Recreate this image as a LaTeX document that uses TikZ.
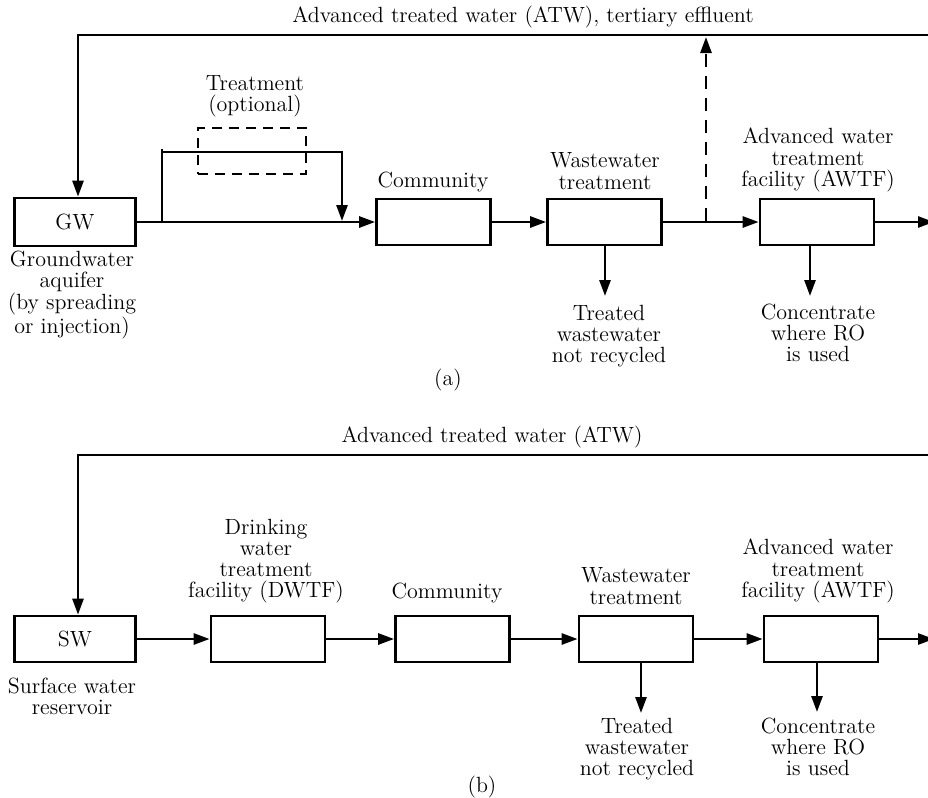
\documentclass[tikz,border=0pt]{standalone}
\usetikzlibrary{arrows.meta}
\begin{document}
\begin{tikzpicture}[x=0.5pt,y=-0.5pt,
  every node/.style={font=\fontsize{11}{10.6}\selectfont},
  ln/.style={line width=1.35pt},
  arr/.style={ln,-{Triangle[length=8pt,width=5.5pt]}},
  box/.style={draw,line width=1.35pt,minimum width=57pt,minimum height=23pt,inner sep=0pt},
  lbl/.style={align=center,inner sep=0pt}]
\useasboundingbox (0,0) rectangle (928,798);
% ---------- (a) ----------
\node[lbl] (ta) at (523,17) {Advanced treated water (ATW), tertiary effluent};
\node[box,minimum width=60.5pt,minimum height=24pt] (gw) at (75,222) {GW};
\node[lbl] (gwl) at (72,295) {Groundwater\\aquifer\\(by spreading\\or injection)};
\node[box,dashed,dash pattern=on 5pt off 3.5pt,minimum width=54pt,minimum height=23pt] (opt) at (252,151) {};
\node[lbl] (optl) at (255,96) {Treatment\\(optional)};
\node[box] (coma) at (433.5,222) {};
\node[lbl] (comal) at (433,182) {Community};
\node[box] (wwa) at (604.5,222) {};
\node[lbl] (wwal) at (605,171) {Wastewater\\treatment};
\node[box] (awa) at (817,222) {};
\node[lbl] (awal) at (818,160) {Advanced water\\treatment\\facility (AWTF)};
\coordinate (wwad) at (605,296);
\node[lbl] (wwan) at (609,336) {Treated\\wastewater\\not recycled};
\coordinate (awad) at (810,296);
\node[lbl] (awan) at (818,333) {Concentrate\\where RO\\is used};
\coordinate (topa) at (78,35);
\coordinate (topar) at (935,35);
\coordinate (b1) at (162,222);
\coordinate (b0) at (162,149);
\coordinate (b2) at (162,152);
\coordinate (b3) at (342,152);
\coordinate (b4) at (342,221);
\coordinate (da) at (706,221);
\coordinate (dat) at (706,37);
\coordinate (ra) at (934,222);
\node[lbl] (capa) at (448,380) {(a)};
\draw[arr] (topar) -- (topa) -- (gw.north -| topa);
\draw[arr] (gw.east) -- (coma.west);
\draw[ln] (b1) -- (b0);
\draw[arr] (b2) -- (b3) -- (b4);
\draw[arr] (coma.east) -- (wwa.west);
\draw[arr] (wwa.east) -- (awa.west);
\draw[arr,dash pattern=on 6.5pt off 4.5pt] (da) -- (dat);
\draw[arr] (wwa.south -| wwad) -- (wwad);
\draw[arr] (awa.south -| awad) -- (awad);
\draw[arr] (awa.east) -- (ra);
% ---------- (b) ----------
\node[lbl] (tb) at (492,437) {Advanced treated water (ATW)};
\node[box,minimum width=60.5pt] (sw) at (75,639) {SW};
\node[lbl] (swl) at (72,696) {Surface water\\reservoir};
\node[box] (dw) at (268,639) {};
\node[lbl] (dwl) at (266,561) {Drinking\\water\\treatment\\facility (DWTF)};
\node[box] (comb) at (452.5,639) {};
\node[lbl] (combl) at (447,593) {Community};
\node[box] (wwb) at (636,639) {};
\node[lbl] (wwbl) at (636,586) {Wastewater\\treatment};
\node[box] (awb) at (821,639) {};
\node[lbl] (awbl) at (818,571) {Advanced water\\treatment\\facility (AWTF)};
\coordinate (wwbd) at (641,713);
\node[lbl] (wwbn) at (637,749) {Treated\\wastewater\\not recycled};
\coordinate (awbd) at (817,712);
\node[lbl] (awbn) at (818,747) {Concentrate\\where RO\\is used};
\coordinate (topb) at (78,455);
\coordinate (topbr) at (935,455);
\coordinate (rb) at (934,639);
\node[lbl] (capb) at (482,787) {(b)};
\draw[arr] (topbr) -- (topb) -- (sw.north -| topb);
\draw[arr] (sw.east) -- (dw.west);
\draw[arr] (dw.east) -- (comb.west);
\draw[arr] (comb.east) -- (wwb.west);
\draw[arr] (wwb.east) -- (awb.west);
\draw[arr] (wwb.south -| wwbd) -- (wwbd);
\draw[arr] (awb.south -| awbd) -- (awbd);
\draw[arr] (awb.east) -- (rb);
\end{tikzpicture}
\end{document}
